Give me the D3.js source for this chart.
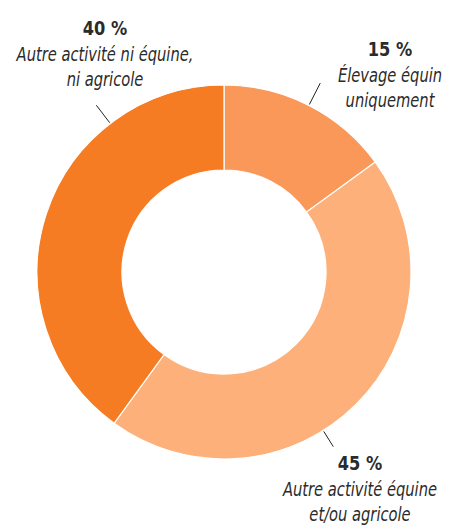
<!DOCTYPE html>
<html>
<head>
<meta charset="utf-8">
<script src="https://cdn.jsdelivr.net/npm/d3@7"></script>
<style>
  body { margin: 0; background: #fff; }
  text { font-family: "DejaVu Sans Condensed", "DejaVu Sans", sans-serif; fill: #2b2b2b; }
  .pct { font-weight: bold; font-size: 20px; }
  .lbl { font-style: italic; font-size: 19px; }
</style>
</head>
<body>
<div id="chart"></div>
<script>
// data
var categories = ["Élevage équin uniquement", "Autre activité équine et/ou agricole", "Autre activité ni équine, ni agricole"];
var values = [15, 45, 40];
var labelLines = [["Élevage équin", "uniquement"], ["Autre activité équine", "et/ou agricole"], ["Autre activité ni équine,", "ni agricole"]];
var colors = ["#f99858", "#fdb079", "#f57c22"];

// dimensions
var width = 449, height = 526,
    cx = 224, cy = 272,
    outerRadius = 187, innerRadius = 102;

var svg = d3.select("#chart")
  .append("svg")
  .attr("width", width)
  .attr("height", height);

var g = svg.append("g")
  .attr("transform", "translate(" + cx + "," + cy + ")");

var data = categories.map(function(c, i) { return {cat: c, value: values[i], i: i}; });

var pie = d3.pie()
  .sort(null)
  .value(function(d) { return d.value; });

var arc = d3.arc()
  .innerRadius(innerRadius)
  .outerRadius(outerRadius);

var arcs = pie(data);

// the slices
g.selectAll("path.slice")
  .data(arcs)
  .enter()
  .append("path")
  .attr("class", "slice")
  .attr("fill", function(d) { return colors[d.data.i]; })
  .attr("stroke", "#fff")
  .attr("stroke-width", 1.2)
  .attr("d", arc);

// where the leader lines leave the ring (fraction of each slice) and where the labels sit
var leaderPos = [0.5, 0.58, 0.74];
var leaderLen = [24, 18, 22];
var labelAt = [[390, 56], [360, 470], [105, 35]];

function pointAt(a, r) { return [Math.sin(a) * r, -Math.cos(a) * r]; }

g.selectAll("line.leader")
  .data(arcs)
  .enter()
  .append("line")
  .attr("class", "leader")
  .attr("stroke", "#222")
  .attr("stroke-width", 1)
  .each(function(d) {
    var a = d.startAngle + (d.endAngle - d.startAngle) * leaderPos[d.data.i];
    var p0 = pointAt(a, outerRadius + 1), p1 = pointAt(a, outerRadius + 1 + leaderLen[d.data.i]);
    d3.select(this).attr("x1", p0[0]).attr("y1", p0[1]).attr("x2", p1[0]).attr("y2", p1[1]);
  });

// the labels (squeezed a little, the original face is a condensed one)
var labels = svg.selectAll("g.label")
  .data(arcs)
  .enter()
  .append("g")
  .attr("class", "label")
  .attr("transform", function(d) { var p = labelAt[d.data.i]; return "translate(" + p[0] + "," + p[1] + ")"; });

labels.append("text")
  .attr("class", "pct")
  .attr("text-anchor", "middle")
  .attr("transform", "scale(0.9,1)")
  .text(function(d) { return d.data.value + " %"; });

labels.each(function(d) {
  var sel = d3.select(this);
  labelLines[d.data.i].forEach(function(t, k) {
    sel.append("text")
      .attr("class", "lbl")
      .attr("text-anchor", "middle")
      .attr("transform", "translate(0," + (26 + k * 25) + ") scale(0.86,1)")
      .text(t);
  });
});
</script>
</body>
</html>
